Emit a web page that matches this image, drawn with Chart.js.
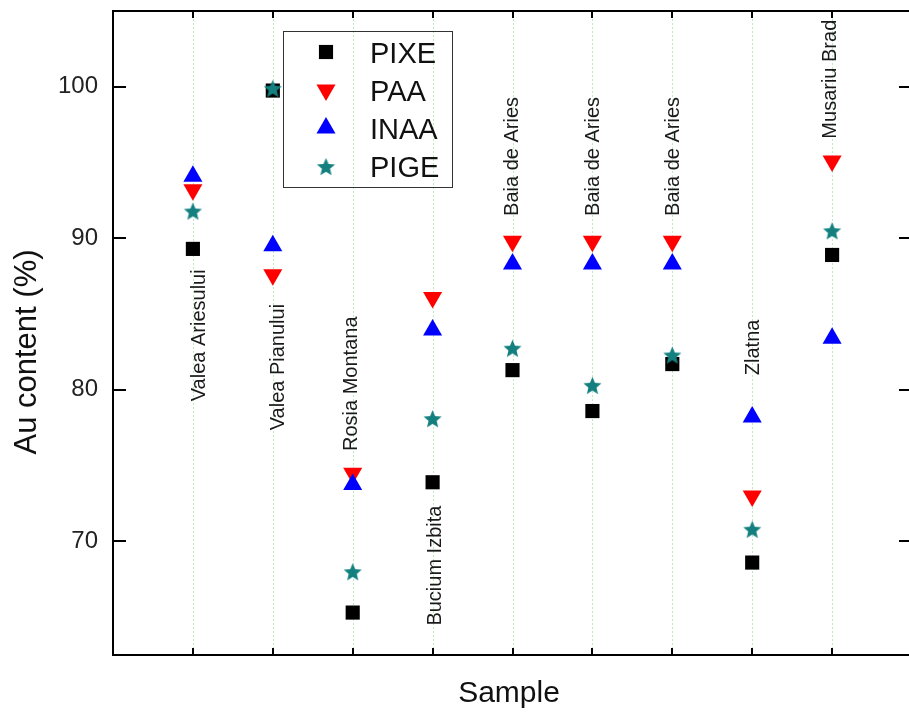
<!DOCTYPE html>
<html><head><meta charset="utf-8">
<script src="https://cdn.jsdelivr.net/npm/chart.js@4/dist/chart.umd.min.js"></script>
<style>
html,body{margin:0;padding:0;overflow:hidden;background:#fff;width:909px;height:714px}
#wrap{width:925px;height:714px;position:relative}
</style></head><body><div id="wrap"><canvas id="c" width="925" height="714"></canvas></div>
<script>
const categories = ["Valea Ariesului","Valea Pianului","Rosia Montana","Bucium Izbita","Baia de Aries","Baia de Aries","Baia de Aries","Zlatna","Musariu Brad"];
const categoryPos = [1,2,3,4,5,6,7,8,9];
const pixe = [89.3, 99.75, 65.3, 73.9, 81.3, 78.6, 81.7, 68.6, 88.9];
const paa  = [93.2, 87.6, 74.5, 86.1, 89.8, 89.8, 89.8, 73.0, 95.1];
const inaa = [94.1, 89.5, 73.75, 83.95, 88.3, 88.3, 88.3, 78.2, 83.4];
const pige = [91.8, 99.9, 68.0, 78.1, 82.75, 80.3, 82.3, 70.8, 90.5];
const labelX = [1.08, 2.07, 2.99, 4.03, 5.0, 6.01, 7.02, 8.02, 8.98];
const labelY = [83.6, 81.5, 80.4, 68.4, 95.4, 95.4, 95.4, 82.8, 100.5];
const yTicks = [70, 80, 90, 100];
const seriesNames = ["PIXE","PAA","INAA","PIGE"];
const xTitle = "Sample";
const yTitle = "Au content (%)";

const FONT = "'Liberation Sans', Arial, sans-serif";

function makeStar(color, R){
  const s = Math.ceil(R*2+2);
  const c = document.createElement('canvas'); c.width = s; c.height = s;
  const g = c.getContext('2d'); g.fillStyle = color; g.beginPath();
  const r = R*0.45;
  for(let i=0;i<10;i++){
    const a = -Math.PI/2 + i*Math.PI/5; const rr = (i%2)?r:R;
    g.lineTo(s/2 + rr*Math.cos(a), s/2 + 1 + rr*Math.sin(a));
  }
  g.closePath(); g.fill(); return c;
}
const starImg = makeStar('#137f7f', 9.5);

function pts(arr){ return categoryPos.map((x,i)=>({x:x, y:arr[i]})); }

const datasets = [
  {label: seriesNames[0], data: pts(pixe), pointStyle:'rect', pointRadius:10, pointBackgroundColor:'#000', pointBorderWidth:0, showLine:false, order:4},
  {label: seriesNames[1], data: pts(paa), pointStyle:'triangle', pointRotation:180, pointRadius:11, pointBackgroundColor:'#ff0000', pointBorderWidth:0, showLine:false, order:3},
  {label: seriesNames[2], data: pts(inaa), pointStyle:'triangle', pointRadius:11, pointBackgroundColor:'#0000ff', pointBorderWidth:0, showLine:false, order:2},
  {label: seriesNames[3], data: pts(pige), pointStyle: starImg, pointRadius:10, pointBackgroundColor:'#137f7f', pointBorderWidth:0, showLine:false, order:1}
];

const framePlugin = {
  id:'frame',
  beforeDatasetsDraw(chart){
    const {ctx, chartArea:a, scales:{x}} = chart;
    ctx.save();
    ctx.strokeStyle = '#bfe8c4'; ctx.lineWidth = 1; ctx.setLineDash([2,2]);
    categoryPos.forEach(v=>{
      const px = Math.round(x.getPixelForValue(v)) + 0.5;
      ctx.beginPath(); ctx.moveTo(px, a.top); ctx.lineTo(px, a.bottom); ctx.stroke();
    });
    ctx.restore();
    ctx.save();
    ctx.fillStyle = '#1a1a1a'; ctx.font = '20px ' + FONT;
    ctx.textAlign = 'center'; ctx.textBaseline = 'middle';
    categories.forEach((t,i)=>{
      const px = x.getPixelForValue(labelX[i]);
      const py = chart.scales.y.getPixelForValue(labelY[i]);
      ctx.save(); ctx.translate(px, py); ctx.rotate(-Math.PI/2); ctx.fillText(t, 0, 0); ctx.restore();
    });
    ctx.restore();
  },
  afterDatasetsDraw(chart){
    const {ctx, chartArea:a, scales:{x, y}} = chart;
    ctx.save();
    ctx.strokeStyle = '#000'; ctx.lineWidth = 2;
    ctx.strokeRect(a.left, a.top, a.right - a.left, a.bottom - a.top);
    ctx.beginPath();
    yTicks.forEach(v=>{
      const py = Math.round(y.getPixelForValue(v));
      ctx.moveTo(a.left, py); ctx.lineTo(a.left + 13, py);
      ctx.moveTo(a.right, py); ctx.lineTo(a.right - 13, py);
    });
    categoryPos.forEach(v=>{
      const px = Math.round(x.getPixelForValue(v));
      ctx.moveTo(px, a.bottom); ctx.lineTo(px, a.bottom - 7);
      ctx.moveTo(px, a.top); ctx.lineTo(px, a.top + 7);
    });
    ctx.stroke();
    ctx.restore();
    // axis titles
    ctx.save();
    ctx.fillStyle = '#111'; ctx.textAlign = 'center'; ctx.textBaseline = 'alphabetic';
    ctx.font = '30px ' + FONT;
    ctx.fillText(xTitle, 509, 701.5);
    ctx.font = '31px ' + FONT;
    ctx.translate(35.5, 352); ctx.rotate(-Math.PI/2); ctx.fillText(yTitle, 0, 0);
    ctx.restore();
    // legend
    ctx.save();
    ctx.strokeStyle = '#333'; ctx.lineWidth = 1;
    ctx.strokeRect(283.5, 31.5, 169, 156);
    const rowsY = [52, 90, 128, 166.5];
    ctx.font = '29px ' + FONT; ctx.textAlign = 'left'; ctx.textBaseline = 'alphabetic';
    chart.data.datasets.forEach((ds,i)=>{
      ctx.fillStyle = ds.pointBackgroundColor; ctx.strokeStyle = ds.pointBackgroundColor;
      Chart.helpers.drawPoint(ctx, {pointStyle: ds.pointStyle, rotation: ds.pointRotation||0, radius: ds.pointRadius, borderWidth:0}, 326, rowsY[i]);
      ctx.fillStyle = '#111';
      ctx.fillText(ds.label, 370, rowsY[i] + 10.5);
    });
    ctx.restore();
  }
};

new Chart(document.getElementById('c'), {
  type:'scatter',
  data:{datasets},
  options:{
    responsive:false, animation:false,
    events:[],
    layout:{padding:{left:0, right:13, top:10, bottom:0}},
    plugins:{legend:{display:false}, tooltip:{enabled:false}},
    scales:{
      x:{type:'linear', min:0, max:10,
        afterBuildTicks:s=>{ s.ticks = categoryPos.map(v=>({value:v})); },
        ticks:{display:false},
        grid:{display:false, drawTicks:false},
        border:{display:false},
        title:{display:false},
        afterFit:s=>{ s.height = 59; s.paddingLeft = 0; s.paddingRight = 0; }
      },
      y:{type:'linear', min:62.5, max:105,
        afterBuildTicks:s=>{ s.ticks = yTicks.map(v=>({value:v})); },
        ticks:{color:'#222', font:{family:FONT, size:24}, padding:15},
        grid:{display:false, drawTicks:false},
        border:{display:false},
        title:{display:false},
        afterFit:s=>{ s.width = 113; s.paddingTop = 0; s.paddingBottom = 0; }
      }
    }
  },
  plugins:[framePlugin]
});
</script></body></html>
